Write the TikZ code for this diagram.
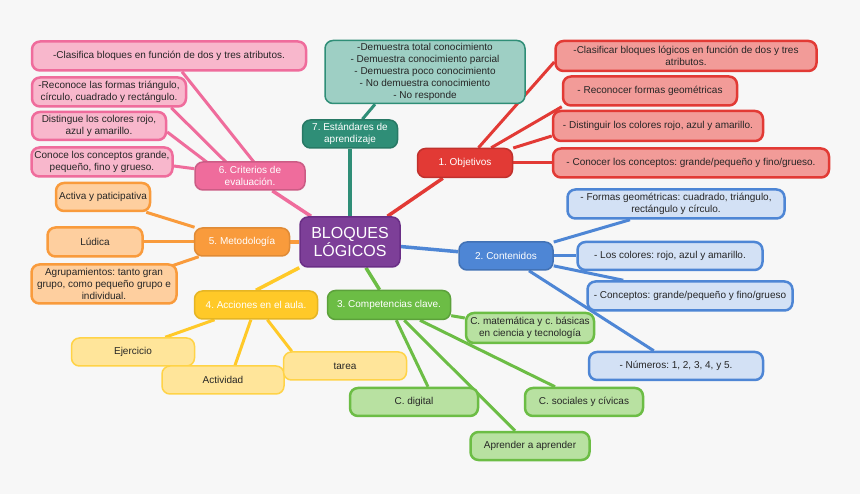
\documentclass[tikz,border=0pt]{standalone}
\usepackage{fontspec}
\setmainfont{Liberation Sans}
\frenchspacing
\usetikzlibrary{calc}
\pgfdeclarelayer{bg}
\pgfsetlayers{bg,main}
\definecolor{fondo}{HTML}{F7F7F7}
\definecolor{morado}{HTML}{7D3F98}
\definecolor{moradoosc}{HTML}{6A2E86}
\definecolor{rojo}{HTML}{E23A35}
\definecolor{rojoc}{HTML}{F29B98}
\definecolor{verdeazul}{HTML}{2F8E77}
\definecolor{verdeazulc}{HTML}{9ECFC4}
\definecolor{rosa}{HTML}{EF6C9C}
\definecolor{rosac}{HTML}{F8B7CC}
\definecolor{naranja}{HTML}{F99B3C}
\definecolor{naranjac}{HTML}{FECF9F}
\definecolor{amarillo}{HTML}{FFC928}
\definecolor{amarilloc}{HTML}{FFE59A}
\definecolor{amarillob}{HTML}{FFD347}
\definecolor{verde}{HTML}{6CBD45}
\definecolor{verdec}{HTML}{B8E1A1}
\definecolor{azul}{HTML}{4E86D5}
\definecolor{azulc}{HTML}{D3E1F5}

\begin{document}
\begin{tikzpicture}[x=1pt,y=-1pt,
    caja/.style={draw, rounded corners=8pt, align=center, inner sep=1pt,
      font=\fontsize{10}{12.2}\selectfont},
    padre/.style={caja, line width=1.5pt, text=white},
    hijo/.style={caja, line width=2.5pt, text=black!85},
    rama/.style={line width=3pt}]

    % canvas 860x494
    \begin{pgfonlayer}{bg}
        \fill[fondo] (0,0) rectangle (860,494);
    \end{pgfonlayer}
    \useasboundingbox (0,0) rectangle (860,494);

    % centro
    \node[caja, line width=1.5pt, draw=moradoosc, fill=morado, text=white,
      minimum width=100pt, minimum height=50pt,
      font=\fontsize{16}{18}\selectfont] (c) at (350,242) {BLOQUES\\LÓGICOS};

    % 1. Objetivos
    \node[padre, draw=rojo!85!black, fill=rojo, minimum width=95pt, minimum height=29pt] (o1) at (465,163) {1. Objetivos};
    \node[hijo, draw=rojo, fill=rojoc, minimum width=261pt, minimum height=30pt] (a1) at (686,56)
      {-Clasificar bloques lógicos en función de dos y tres\\atributos.};
    \node[hijo, draw=rojo, fill=rojoc, minimum width=174pt, minimum height=29pt] (a2) at (650,91)
      {- Reconocer formas geométricas};
    \node[hijo, draw=rojo, fill=rojoc, minimum width=210pt, minimum height=30pt] (a3) at (658,126)
      {- Distinguir los colores rojo, azul y amarillo.};
    \node[hijo, draw=rojo, fill=rojoc, minimum width=276pt, minimum height=29pt] (a4) at (691,163)
      {- Conocer los conceptos: grande/pequeño y fino/grueso.};

    % 2. Contenidos
    \node[padre, draw=azul!85!black, fill=azul, minimum width=94pt, minimum height=28pt] (o2) at (506,256) {2. Contenidos};
    \node[hijo, draw=azul, fill=azulc, minimum width=217pt, minimum height=29pt] (b1) at (676,204)
      {- Formas geométricas: cuadrado, triángulo,\\rectángulo y círculo.};
    \node[hijo, draw=azul, fill=azulc, minimum width=185pt, minimum height=28pt] (b2) at (670,256)
      {- Los colores: rojo, azul y amarillo.};
    \node[hijo, draw=azul, fill=azulc, minimum width=205pt, minimum height=29pt] (b3) at (690,296)
      {- Conceptos: grande/pequeño y fino/grueso};
    \node[hijo, draw=azul, fill=azulc, minimum width=174pt, minimum height=28pt] (b4) at (676,366)
      {- Números: 1, 2, 3, 4, y 5.};

    % 3. Competencias clave
    \node[padre, draw=verde!85!black, fill=verde, minimum width=123pt, minimum height=29pt] (o3) at (389,305) {3. Competencias clave.};
    \node[hijo, draw=verde, fill=verdec, minimum width=128pt, minimum height=30pt] (g1) at (530,328)
      {C. matemática y c. básicas\\en ciencia y tecnología};
    \node[hijo, draw=verde, fill=verdec, minimum width=128pt, minimum height=28pt] (g2) at (414,402) {C. digital};
    \node[hijo, draw=verde, fill=verdec, minimum width=118pt, minimum height=28pt] (g3) at (584,402) {C. sociales y cívicas};
    \node[hijo, draw=verde, fill=verdec, minimum width=119pt, minimum height=28pt] (g4) at (530,446) {Aprender a aprender};

    % 4. Acciones en el aula
    \node[padre, draw=amarillo!90!black, fill=amarillo, minimum width=123pt, minimum height=28pt] (o4) at (256,305) {4. Acciones en el aula.};
    \node[hijo, line width=1.5pt, draw=amarillob, fill=amarilloc, minimum width=123pt, minimum height=28pt] (y1) at (133,352) {Ejercicio};
    \node[hijo, line width=1.5pt, draw=amarillob, fill=amarilloc, minimum width=122pt, minimum height=28pt] (y2) at (223,380) {Actividad};
    \node[hijo, line width=1.5pt, draw=amarillob, fill=amarilloc, minimum width=123pt, minimum height=28pt] (y3) at (345,366) {tarea};

    % 5. Metodologia
    \node[padre, draw=naranja!90!black, fill=naranja, minimum width=95pt, minimum height=28pt] (o5) at (242,242) {5. Metodología};
    \node[hijo, draw=naranja, fill=naranjac, minimum width=94pt, minimum height=28pt] (m1) at (103,197) {Activa y paticipativa};
    \node[hijo, draw=naranja, fill=naranjac, minimum width=95pt, minimum height=29pt] (m2) at (95,242) {Lúdica};
    \node[hijo, draw=naranja, fill=naranjac, minimum width=145pt, minimum height=39pt] (m3) at (104,284)
      {Agrupamientos: tanto gran\\grupo, como pequeño grupo e\\individual.};

    % 6. Criterios de evaluacion
    \node[padre, draw=rosa!85!black, fill=rosa, minimum width=110pt, minimum height=28pt] (o6) at (250,176) {6. Criterios de\\evaluación.};
    \node[hijo, draw=rosa, fill=rosac, minimum width=274pt, minimum height=29pt] (p1) at (169,56)
      {-Clasifica bloques en función de dos y tres atributos.};
    \node[hijo, draw=rosa, fill=rosac, minimum width=154pt, minimum height=29pt] (p2) at (109,92)
      {-Reconoce las formas triángulo,\\círculo, cuadrado y rectángulo.};
    \node[hijo, draw=rosa, fill=rosac, minimum width=134pt, minimum height=28pt] (p3) at (99,126)
      {Distingue los colores rojo,\\azul y amarillo.};
    \node[hijo, draw=rosa, fill=rosac, minimum width=141pt, minimum height=29pt] (p4) at (102,162)
      {Conoce los conceptos grande,\\pequeño, fino y grueso.};

    % 7. Estandares de aprendizaje
    \node[padre, draw=verdeazul!85!black, fill=verdeazul, minimum width=95pt, minimum height=28pt] (o7) at (350,134) {7. Estándares de\\aprendizaje};
    \node[hijo, line width=1.5pt, draw=verdeazul, fill=verdeazulc, minimum width=200pt, minimum height=63pt] (d7) at (425,72)
      {-Demuestra total conocimiento\\- Demuestra conocimiento parcial\\- Demuestra poco conocimiento\\- No demuestra conocimiento\\- No responde};

    % ramas
    \begin{pgfonlayer}{bg}
        \draw[rama, line width=3.5pt, rojo] (c) -- (o1);
        \draw[rama, line width=3.5pt, azul] (c) -- (o2);
        \draw[rama, line width=3.5pt, verde] (c) -- (o3);
        \draw[rama, line width=3.5pt, amarillo] (c.south west) -- (o4.north);
        \draw[rama, line width=3.5pt, naranja] (c) -- (o5);
        \draw[rama, line width=3.5pt, rosa] (c) -- (o6);
        \draw[rama, line width=3.5pt, verdeazul] (c) -- (o7);

        \draw[rama, rojo] (o1) -- ([yshift=-6pt]a1.west);
        \draw[rama, rojo] (o1) -- (a2.south west);
        \draw[rama, rojo] (o1) -- ([yshift=-10pt]a3.west);
        \draw[rama, rojo] (o1) -- (a4);

        \draw[rama, azul] (o2) -- ([xshift=-46pt]b1.south);
        \draw[rama, azul] (o2) -- (b2);
        \draw[rama, azul] (o2) -- ([xshift=37pt]b3.north west);
        \draw[rama, azul] (o2) -- ([xshift=66pt]b4.north west);

        \draw[rama, verde] (o3) -- ([yshift=10pt]g1.west);
        \draw[rama, verde] (o3) -- ([xshift=14pt]g2.north);
        \draw[rama, verde] (o3) -- ([xshift=-29pt]g3.north);
        \draw[rama, verde] (o3) -- ([xshift=-15pt]g4.north);

        \draw[rama, amarillo] (o4) -- ([xshift=-30pt]y1.north east);
        \draw[rama, amarillo] (o4) -- ([xshift=12pt]y2.north);
        \draw[rama, amarillo] (o4) -- ([xshift=9pt]y3.north west);

        \draw[rama, naranja] (o5) -- ([xshift=-5pt]m1.south east);
        \draw[rama, naranja] (o5) -- (m2);
        \draw[rama, naranja] (o5) -- ([xshift=-7pt,yshift=-3pt]m3.north east);

        \draw[rama, rosa] ([xshift=15pt]o6.center) -- ([xshift=13pt]p1.south);
        \draw[rama, rosa] ([xshift=-10pt]o6.center) -- ([xshift=-16pt]p2.south east);
        \draw[rama, rosa] ([xshift=-25pt]o6.center) -- ([yshift=-6pt]p3.east);
        \draw[rama, rosa] (o6) -- ([yshift=-4pt]p4.east);

        \draw[rama, verdeazul] (o7) -- ([xshift=-50pt]d7.south);
    \end{pgfonlayer}
\end{tikzpicture}
\end{document}
